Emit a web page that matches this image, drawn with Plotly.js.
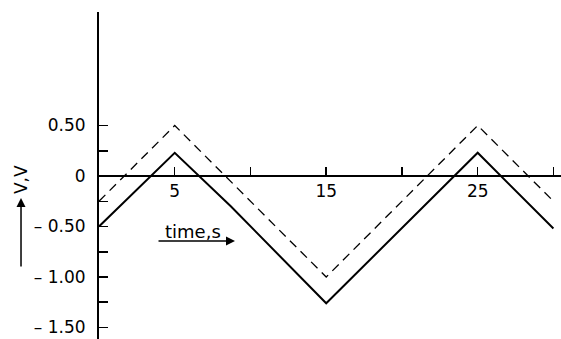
<!DOCTYPE html>
<html>
<head>
<meta charset="utf-8">
<script src="https://cdn.plot.ly/plotly-3.0.1.min.js"></script>
<style>
  html, body { margin: 0; padding: 0; background: #fff; }
  #plotArea { width: 561px; height: 339px; }
</style>
</head>
<body>
<div id="plotArea"></div>
<script>
// time (s) and voltage (V)
var tSolid = [0, 5, 8.7, 15, 25, 30];
var vSolid = [-0.5, 0.23, -0.30, -1.26, 0.23, -0.52];

var tDashed = [0, 5, 15, 25, 30];
var vDashed = [-0.25, 0.5, -1.0, 0.5, -0.25];

var xTickVals = [5, 10, 15, 20, 25, 30];
var xTickText = ["5", "", "15", "", "25", ""];

var yTickVals = [0.5, 0.25, 0, -0.25, -0.5, -0.75, -1.0, -1.25, -1.5];
var yTickText = ["0.50", "", "0", "", "\u2013 0.50", "", "\u2013 1.00", "", "\u2013 1.50"];

var trace1 = {
    x: tSolid,
    y: vSolid,
    mode: "lines",
    type: "scatter",
    line: {color: "#000", width: 2}
};

var trace2 = {
    x: tDashed,
    y: vDashed,
    mode: "lines",
    type: "scatter",
    line: {color: "#000", width: 1.3, dash: "9px,6px"}
};

var font = {family: "DejaVu Sans", size: 17, color: "#000"};

var layout = {
    width: 561,
    height: 339,
    margin: {l: 99, r: 0, t: 12, b: 0, pad: 0},
    paper_bgcolor: "#fff",
    plot_bgcolor: "#fff",
    showlegend: false,
    font: font,
    xaxis: {
        range: [0, 30.5],
        anchor: "free",
        position: 0.4985,
        showline: true, linecolor: "#000", linewidth: 2,
        showgrid: false, zeroline: false,
        ticks: "inside", ticklen: 8, tickwidth: 1.5, tickcolor: "#000",
        tickmode: "array", tickvals: xTickVals, ticktext: xTickText,
        ticklabelstandoff: 0,
        tickfont: font
    },
    yaxis: {
        range: [-1.614, 1.624],
        showline: true, linecolor: "#000", linewidth: 2,
        showgrid: false, zeroline: false,
        ticks: "inside", ticklen: 9, tickwidth: 1.5, tickcolor: "#000",
        tickmode: "array", tickvals: yTickVals, ticktext: yTickText,
        ticklabelstandoff: 8,
        tickfont: font
    },
    annotations: [
        {
            // y-axis label
            text: "V,V", textangle: -90,
            xref: "paper", yref: "paper",
            x: -0.1688, y: 0.486,
            xanchor: "center", yanchor: "middle",
            showarrow: false, font: font
        },
        {
            // upward arrow under the y label
            text: "", xref: "paper", yref: "paper",
            x: -0.1688, y: 0.431, ax: 0, ay: 70,
            showarrow: true, arrowhead: 2, arrowsize: 1.2, arrowwidth: 1.5, arrowcolor: "#000"
        },
        {
            // x-axis label
            text: "time,s",
            xref: "paper", yref: "paper",
            x: 0.2035, y: 0.330,
            xanchor: "center", yanchor: "middle",
            showarrow: false, font: {family: "DejaVu Sans", size: 18, color: "#000"}
        },
        {
            // arrow to the right under the x label
            text: "", xref: "paper", yref: "paper",
            x: 0.2944, y: 0.2997, ax: -78, ay: 0,
            showarrow: true, arrowhead: 2, arrowsize: 1.2, arrowwidth: 1.5, arrowcolor: "#000"
        }
    ]
};

data = [trace1, trace2];

Plotly.newPlot("plotArea", data, layout, {staticPlot: true, displayModeBar: false});
</script>
</body>
</html>
